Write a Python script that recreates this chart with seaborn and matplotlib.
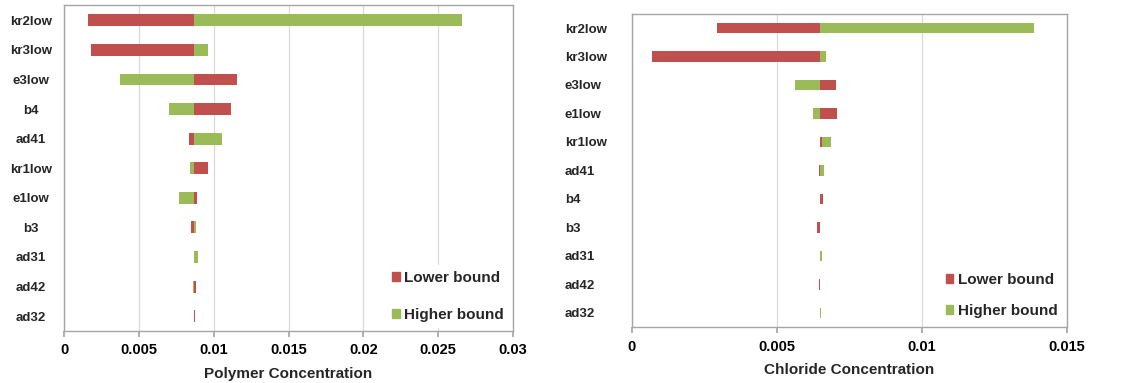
import matplotlib
matplotlib.use("Agg")
import matplotlib.pyplot as plt
import seaborn as sns
from matplotlib.patches import Patch

# ---- data ----
poly_params = ["kr2low", "kr3low", "e3low", "b4", "ad41", "kr1low",
               "e1low", "b3", "ad31", "ad42", "ad32"]
poly_base = 0.0087
poly_lower = [0.00158, 0.00178, 0.01158, 0.01116, 0.00833, 0.0096,
              0.00887, 0.0085, 0.00866, 0.00884, 0.00875]
poly_higher = [0.02657, 0.00964, 0.00376, 0.0070, 0.01054, 0.0084,
               0.00768, 0.0088, 0.00893, 0.00865, 0.0087]

chl_params = ["kr2low", "kr3low", "e3low", "e1low", "kr1low", "ad41",
              "b4", "b3", "ad31", "ad42", "ad32"]
chl_base = 0.0065
chl_lower = [0.00293, 0.00071, 0.00704, 0.00709, 0.00655, 0.00645,
             0.0066, 0.0064, 0.0065, 0.00645, 0.0065]
chl_higher = [0.01388, 0.0067, 0.00563, 0.00626, 0.00686, 0.00663,
              0.00648, 0.0065, 0.00656, 0.0065, 0.00652]

RED = "#C0504D"
GREEN = "#9BBB59"

sns.set_theme(style="white")
plt.rcParams["font.family"] = ["Liberation Sans", "DejaVu Sans"]
plt.rcParams["font.weight"] = "bold"

fig = plt.figure(figsize=(11.31, 3.83), dpi=100)
ax1 = fig.add_axes([0.0566, 0.1358, 0.397, 0.850])
ax2 = fig.add_axes([0.5585, 0.146, 0.3846, 0.818])


def tornado(ax, params, base, lower, higher, xmax, step, xlabel, bar_h, spacing):
    for i, name in enumerate(params):
        lo = lower[i] - base
        hi = higher[i] - base
        # longer bar first, so a short one on the same side stays visible
        pairs = [(lo, RED), (hi, GREEN)]
        pairs.sort(key=lambda p: -abs(p[0]))
        for w, c in pairs:
            ax.barh(i, w, left=base, height=bar_h, color=c, linewidth=0, zorder=3)
    ax.set_xlim(0, xmax)
    ax.set_ylim(len(params) - 0.5, -0.5)
    ticks = [round(k * step, 4) for k in range(int(round(xmax / step)) + 1)]
    ax.set_xticks(ticks)
    ax.set_xticklabels(["0" if t == 0 else f"{t:g}" for t in ticks],
                       fontsize=10.5, fontweight="bold")
    ax.set_yticks(range(len(params)))
    ax.set_yticklabels(params, fontsize=9.5, fontweight="bold")
    ax.set_xlabel(xlabel, fontsize=11, fontweight="bold", labelpad=7)
    ax.xaxis.grid(True, color="#D9D9D9", linewidth=0.9, zorder=0)
    ax.yaxis.grid(False)
    for s in ax.spines.values():
        s.set_color("#A6A6A6")
        s.set_linewidth(1.0)
    ax.tick_params(axis="x", bottom=True, length=4, color="#A6A6A6",
                   direction="out", pad=5, colors="black")
    ax.tick_params(axis="y", length=0)
    handles = [Patch(color=RED, label="Lower bound"),
               Patch(color=GREEN, label="Higher bound")]
    leg = ax.legend(handles=handles, loc="lower right", frameon=True,
                    handlelength=0.5, handleheight=0.5,
                    handletextpad=0.3, labelspacing=spacing,
                    borderaxespad=0.2, prop={"size": 11, "weight": "bold"})
    leg.get_frame().set_facecolor("white")
    leg.get_frame().set_edgecolor("none")
    leg.get_frame().set_alpha(1)
    leg.set_zorder(5)


tornado(ax1, poly_params, poly_base, poly_lower, poly_higher,
        0.03, 0.005, "Polymer Concentration", 0.4, 1.5)
tornado(ax2, chl_params, chl_base, chl_lower, chl_higher,
        0.015, 0.005, "Chloride Concentration", 0.37, 1.1)

# left chart: labels centred in the margin
ax1.tick_params(axis="y", pad=24)
for lbl in ax1.get_yticklabels():
    lbl.set_horizontalalignment("center")

# right chart: labels left aligned
ax2.tick_params(axis="y", pad=48)
for lbl in ax2.get_yticklabels():
    lbl.set_horizontalalignment("left")

fig.savefig("out.png", dpi=100)
